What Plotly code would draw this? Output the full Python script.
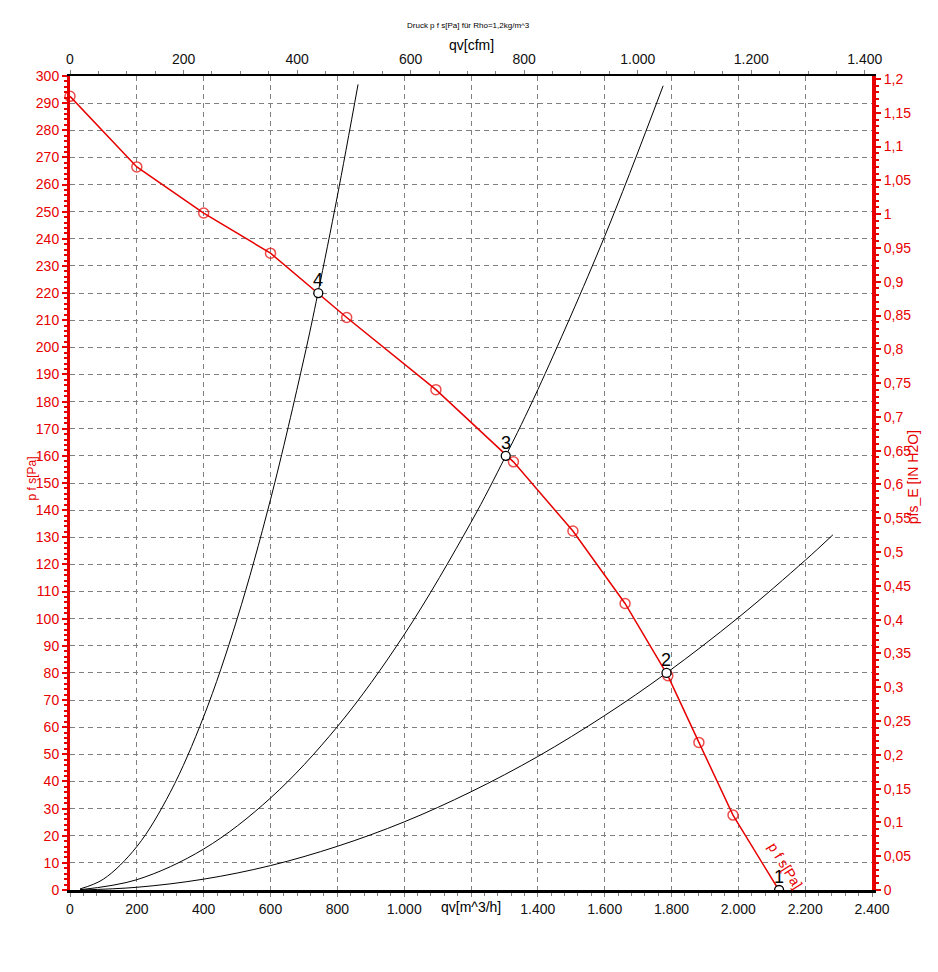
import plotly.graph_objects as go

# fan curve p f s (red)
q_fan = [0, 200, 400, 600, 828, 1095, 1327, 1505, 1661, 1789, 1882, 1984, 2121]
p_fan = [292.5, 266.5, 249.5, 234.7, 211.0, 184.4, 157.8, 132.3, 105.6, 79.0, 54.4, 27.6, 0]

# system curves (black)
q_sys4 = [30, 100, 200, 300, 400, 500, 600, 700, 742, 800, 862]
p_sys4 = [0.4, 4.0, 16.0, 36.0, 63.9, 99.9, 143.9, 195.8, 220.0, 255.7, 296.9]
q_sys3 = [30, 200, 400, 600, 800, 1000, 1200, 1304, 1400, 1600, 1775]
p_sys3 = [0.1, 3.8, 15.1, 33.9, 60.2, 94.1, 135.5, 160.0, 184.4, 240.9, 296.4]
q_sys2 = [30, 200, 400, 600, 800, 1000, 1200, 1400, 1600, 1785, 2000, 2200, 2283]
p_sys2 = [0.0, 1.0, 4.0, 9.0, 16.1, 25.1, 36.2, 49.2, 64.3, 80.0, 100.4, 121.5, 130.9]

# operating points
op_labels = ['1', '2', '3', '4']
op_q = [2122, 1785, 1304, 743]
op_p = [0, 80, 160, 220]

# bottom axis ticks (the 1.200 label is covered by the axis title in the original)
x_ticks = [0, 200, 400, 600, 800, 1000, 1200, 1400, 1600, 1800, 2000, 2200, 2400]
x_ticklabels = ['0', '200', '400', '600', '800', '1.000', '', '1.400', '1.600',
                '1.800', '2.000', '2.200', '2.400']

CFM = 0.588578      # cfm per m^3/h
INH2O = 249.089     # Pa per in H2O

RED = '#e60000'
GRID = '#808080'
FONT = 'Liberation Sans, Arial, sans-serif'

fig = go.Figure()

for qs, ps in [(q_sys4, p_sys4), (q_sys3, p_sys3), (q_sys2, p_sys2)]:
    fig.add_trace(go.Scatter(x=qs, y=ps, mode='lines', line=dict(color='black', width=1),
                             line_shape='spline', hoverinfo='skip', showlegend=False))

fig.add_trace(go.Scatter(
    x=q_fan, y=p_fan, mode='lines+markers',
    line=dict(color=RED, width=1.5),
    marker=dict(symbol='circle-open', size=[10] * (len(q_fan) - 1) + [0], color=RED,
                line=dict(width=1.5)),
    cliponaxis=False, showlegend=False
))

fig.add_trace(go.Scatter(
    x=op_q, y=op_p, mode='markers',
    marker=dict(symbol='circle', size=9, color='white', line=dict(color='black', width=1.3)),
    showlegend=False
))

# invisible trace so the cfm / in H2O axes are drawn
fig.add_trace(go.Scatter(
    x=[v * CFM for v in q_fan], y=[v / INH2O for v in p_fan],
    xaxis='x2', yaxis='y2', mode='lines', line=dict(color='rgba(0,0,0,0)'),
    hoverinfo='skip', showlegend=False
))

annotations = []
for lab, qx, py in zip(op_labels, op_q, op_p):
    annotations.append(dict(x=qx, y=py, xref='x', yref='y', text=lab, showarrow=False,
                            yshift=13, font=dict(size=18, color='black', family=FONT)))

annotations += [
    dict(x=2142, y=9, xref='x', yref='y', text='p f s[Pa]', showarrow=False, textangle=58,
         font=dict(size=14, color=RED, family=FONT)),
    dict(x=0.497, y=1.0, xref='paper', yref='paper', text='Druck p f s[Pa] für Rho=1,2kg/m^3',
         showarrow=False, xanchor='center', yanchor='middle', yshift=51,
         font=dict(size=8, color='black', family=FONT)),
    dict(x=0.5, y=1.0, xref='paper', yref='paper', text='qv[cfm]', showarrow=False,
         xanchor='center', yanchor='middle', yshift=31,
         font=dict(size=14, color='black', family=FONT)),
    dict(x=0.5, y=0.0, xref='paper', yref='paper', text='qv[m^3/h]', showarrow=False,
         xanchor='center', yanchor='middle', yshift=-17,
         font=dict(size=14, color='black', family=FONT)),
    dict(x=-0.047, y=0.506, xref='paper', yref='paper', text='p f s[Pa]', showarrow=False,
         xanchor='center', yanchor='middle', textangle=-90,
         font=dict(size=12, color=RED, family=FONT)),
    dict(x=1.051, y=0.507, xref='paper', yref='paper', text='pfs_E [IN H2O]', showarrow=False,
         xanchor='center', yanchor='middle', textangle=-90,
         font=dict(size=14, color=RED, family=FONT)),
]

fig.update_layout(
    width=938, height=972,
    margin=dict(l=62, r=74, t=68, b=90),
    paper_bgcolor='white', plot_bgcolor='white',
    separators=',.',
    font=dict(family=FONT, size=14, color='black'),
    annotations=annotations,
    xaxis=dict(
        range=[0, 2400], tickmode='array', tickvals=x_ticks, ticktext=x_ticklabels,
        showgrid=True, gridcolor=GRID, griddash='5px,4px', gridwidth=1,
        showline=True, linecolor='black', linewidth=3, zeroline=False,
        ticks='outside', ticklen=4, tickcolor=GRID, tickwidth=1,
        tickfont=dict(size=14, color='#111111'),
        minor=dict(dtick=40, tick0=0, ticks='outside', ticklen=3, tickcolor=GRID, showgrid=False)
    ),
    xaxis2=dict(
        range=[0, 2400 * CFM], dtick=200, tick0=0, separatethousands=True,
        overlaying='x', side='top', showgrid=False, zeroline=False,
        showline=True, linecolor='black', linewidth=2,
        ticks='outside', ticklen=4, tickcolor=GRID, tickwidth=1,
        tickfont=dict(size=14, color='#111111'),
        minor=dict(dtick=50, ticks='outside', ticklen=3, tickcolor=GRID, showgrid=False)
    ),
    yaxis=dict(
        range=[0, 300], dtick=10, tick0=0,
        showgrid=True, gridcolor=GRID, griddash='5px,4px', gridwidth=1,
        showline=True, linecolor=RED, linewidth=3, zeroline=False,
        ticks='outside', ticklen=5, tickcolor=RED, tickwidth=2,
        tickfont=dict(size=14, color=RED),
        minor=dict(dtick=2, ticks='outside', ticklen=3, tickcolor=RED, showgrid=False)
    ),
    yaxis2=dict(
        range=[0, 300 / INH2O], dtick=0.05, tick0=0,
        overlaying='y', side='right', showgrid=False, zeroline=False,
        showline=True, linecolor=RED, linewidth=4,
        ticks='outside', ticklen=5, tickcolor=RED, tickwidth=2,
        tickfont=dict(size=14, color=RED),
        minor=dict(dtick=0.01, ticks='outside', ticklen=3, tickcolor=RED, showgrid=False)
    ),
)

fig.write_html("out.html")
